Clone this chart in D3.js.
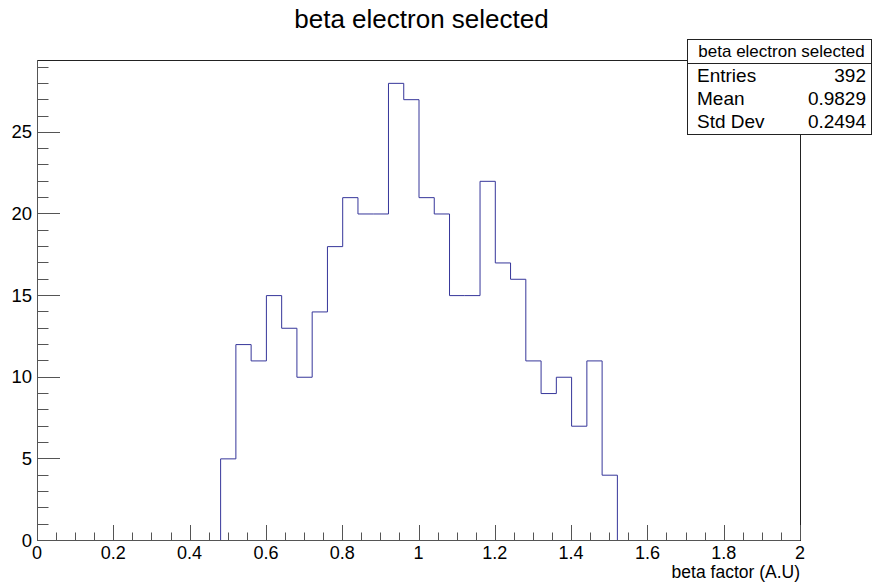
<!DOCTYPE html>
<html>
<head>
<meta charset="utf-8">
<script src="https://cdn.jsdelivr.net/npm/d3@7"></script>
<style>
  html, body { margin: 0; padding: 0; background: #fff; }
  svg { display: block; font-family: "Liberation Sans", Arial, Helvetica, sans-serif; }
</style>
</head>
<body>
<svg id="chart" width="873" height="583"></svg>
<script>
// Histogram of beta factor: bins of width 0.04 over [0, 2]
const binLow = [0.48, 0.52, 0.56, 0.60, 0.64, 0.68, 0.72, 0.76, 0.80, 0.84, 0.88, 0.92, 0.96,
                1.00, 1.04, 1.08, 1.12, 1.16, 1.20, 1.24, 1.28, 1.32, 1.36, 1.40, 1.44, 1.48];
const counts = [5, 12, 11, 15, 13, 10, 14, 18, 21, 20, 20, 28, 27,
                21, 20, 15, 15, 22, 17, 16, 11, 9, 10, 7, 11, 4];
const binWidth = 0.04;
const xTicks = [0, 0.2, 0.4, 0.6, 0.8, 1, 1.2, 1.4, 1.6, 1.8, 2];
const yTicks = [0, 5, 10, 15, 20, 25];
const statsLabels = ["Entries", "Mean", "Std Dev"];
const statsValues = ["392", "0.9829", "0.2494"];
const title = "beta electron selected";
const xTitle = "beta factor (A.U)";

(function () {
  const svg = d3.select("#chart");
  const mLeft = 37, mRight = 800, mTop = 60, mBottom = 540;

  const x = d3.scaleLinear().domain([0, 2]).range([mLeft, mRight]);
  const y = d3.scaleLinear().domain([0, d3.max(counts) * 1.05]).range([mBottom, mTop]);

  // Frame
  svg.append("rect")
    .attr("x", mLeft + 0.5).attr("y", mTop + 0.5)
    .attr("width", mRight - mLeft).attr("height", mBottom - mTop)
    .attr("fill", "none").attr("stroke", "#222").attr("stroke-width", 1);

  // Histogram outline as a single step path
  let d = "M" + x(binLow[0]) + "," + y(0);
  binLow.forEach((lo, i) => {
    d += "L" + x(lo) + "," + y(counts[i]);
    d += "L" + x(lo + binWidth) + "," + y(counts[i]);
  });
  d += "L" + x(binLow[binLow.length - 1] + binWidth) + "," + y(0);
  svg.append("path").attr("d", d)
    .attr("fill", "none").attr("stroke", "#36369a").attr("stroke-width", 1)
    .attr("transform", "translate(0.5,0.5)");

  // X axis: major and minor ticks
  const xAxisG = svg.append("g").attr("transform", `translate(0,${mBottom})`);
  const xMinor = d3.range(0, 41).map(i => i * 0.05);
  xMinor.forEach((v, i) => {
    const isMajor = i % 4 === 0;
    xAxisG.append("line")
      .attr("x1", Math.round(x(v)) + 0.5).attr("x2", Math.round(x(v)) + 0.5)
      .attr("y1", 0).attr("y2", isMajor ? -15 : -7.5)
      .attr("stroke", "#555").attr("stroke-width", 1);
  });
  xAxisG.selectAll("text.tl").data(xTicks).join("text")
    .attr("class", "tl")
    .attr("x", d => x(d)).attr("y", 18.5)
    .attr("text-anchor", "middle")
    .attr("font-size", 18)
    .text(d => d3.format("")(d));
  xAxisG.append("line").attr("x1", mLeft).attr("x2", mRight).attr("y1", 0.5).attr("y2", 0.5)
    .attr("stroke", "#555");

  // Y axis: major every 5, minor every 1
  const yAxisG = svg.append("g").attr("transform", `translate(${mLeft},0)`);
  const yMinor = d3.range(0, Math.floor(y.domain()[1]) + 1, 1);
  yMinor.forEach(v => {
    const isMajor = v % 5 === 0;
    yAxisG.append("line")
      .attr("x1", 0).attr("x2", isMajor ? 23 : 11.5)
      .attr("y1", Math.round(y(v)) + 0.5).attr("y2", Math.round(y(v)) + 0.5)
      .attr("stroke", "#555").attr("stroke-width", 1);
  });
  yAxisG.selectAll("text.tl").data(yTicks).join("text")
    .attr("class", "tl")
    .attr("x", -5).attr("y", d => y(d) + 6.6)
    .attr("text-anchor", "end")
    .attr("font-size", 18.5)
    .text(d => d);
  yAxisG.append("line").attr("x1", 0.5).attr("x2", 0.5).attr("y1", mTop).attr("y2", mBottom)
    .attr("stroke", "#555");

  // Titles
  svg.append("text").attr("x", 421.5).attr("y", 28)
    .attr("text-anchor", "middle").attr("font-size", 26).text(title);
  svg.append("text").attr("x", mRight).attr("y", 578)
    .attr("text-anchor", "end").attr("font-size", 17.5).text(xTitle);

  // Statistics box
  const bx = 687, by = 39, bw = 185, bh = 95, hh = 24;
  svg.append("rect").attr("x", bx + 0.5).attr("y", by + 0.5).attr("width", bw - 1).attr("height", bh)
    .attr("fill", "#fff").attr("stroke", "#222");
  svg.append("line").attr("x1", bx).attr("x2", bx + bw).attr("y1", by + hh + 0.5).attr("y2", by + hh + 0.5)
    .attr("stroke", "#222");
  svg.append("text").attr("x", 781.5).attr("y", by + 18)
    .attr("text-anchor", "middle").attr("font-size", 17).text(title);
  statsLabels.forEach((lab, i) => {
    const yy = 82 + i * 23;
    svg.append("text").attr("x", 697).attr("y", yy).attr("font-size", 19).text(lab);
    svg.append("text").attr("x", 866).attr("y", yy).attr("text-anchor", "end")
      .attr("font-size", 19).text(statsValues[i]);
  });
})();
</script>
</body>
</html>
